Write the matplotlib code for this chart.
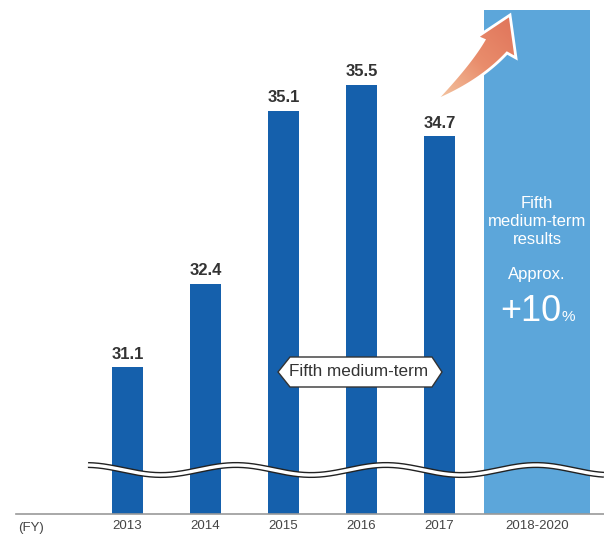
import numpy as np
import matplotlib
matplotlib.use('Agg')
import matplotlib.pyplot as plt
from matplotlib.patches import Polygon
from matplotlib.colors import LinearSegmentedColormap

plt.rcParams['font.family'] = ['Liberation Sans', 'DejaVu Sans']

# data
years = ['2013', '2014', '2015', '2016', '2017']
values = [31.1, 32.4, 35.1, 35.5, 34.7]
plan_label = '2018-2020'
plan_top = 36.67          # light column drawn up to here (not a value)
axis_base = 28.81         # value at the broken baseline

BAR_DARK = '#1560ac'
BAR_LIGHT = '#5ca6da'
TXT = '#333333'

fig = plt.figure(figsize=(6.04, 5.34), dpi=100)

# main axes, scaled so the bars fall where the reference has them
ax = fig.add_axes([16 / 604, 20 / 534, 1 - 16 / 604, 1 - 20 / 534])
x = np.arange(len(years))
ax.bar(x, np.array(values) - axis_base, bottom=axis_base, width=0.4, color=BAR_DARK, zorder=2)
plan_x = 5.25
ax.bar([plan_x], [plan_top - axis_base], bottom=axis_base, width=1.36, color=BAR_LIGHT, zorder=1)

for xi, v in zip(x, values):
    ax.annotate('{:.1f}'.format(v), (xi, v), xytext=(0, 4), textcoords='offset points',
                ha='center', va='bottom', fontsize=12, fontweight='bold', color=TXT)

ax.set_xlim(-1.4295, 6.109)
ax.set_ylim(axis_base, 36.825)
ax.set_xticks(list(x) + [plan_x])
ax.set_xticklabels(years + [plan_label], fontsize=9.5, color='#444444')
ax.tick_params(axis='x', length=0, pad=4.5)
ax.set_yticks([])
for s in ['top', 'right', 'left']:
    ax.spines[s].set_visible(False)
ax.spines['bottom'].set_color('#999999')
ax.spines['bottom'].set_linewidth(1.2)
ax.patch.set_alpha(0)

fig.text(18 / 604, 1 - 528 / 534, '(FY)', fontsize=9.5, color='#444444', ha='left', va='center')

# overlay in pixel coordinates for the decorations
ov = fig.add_axes([0, 0, 1, 1])
ov.axis('off')
ov.patch.set_alpha(0)

# wavy break
wx = np.linspace(88, 604, 400)
wy = 470 + 5 * np.cos(2 * np.pi * (wx - 161) / 150)
ov.plot(wx, wy, color='#222222', lw=4.4, solid_capstyle='butt', zorder=3)
ov.plot(wx, wy, color='white', lw=2.4, solid_capstyle='butt', zorder=4)

# "Fifth medium-term" hexagon label
hexa = Polygon([(278, 372), (290, 357), (432, 357), (442, 372), (432, 387), (290, 387)],
               closed=True, facecolor='white', edgecolor=TXT, lw=1.0, zorder=5)
ov.add_patch(hexa)
ov.text(359, 372, 'Fifth medium-term', ha='center', va='center', fontsize=12.3, color=TXT, zorder=6)

# column text
for txt, yy in [('Fifth', 203), ('medium-term', 222), ('results', 240), ('Approx.', 275)]:
    ov.text(537, yy, txt, ha='center', va='center', fontsize=12, color='white', zorder=6)
ov.text(561, 321, '+10', ha='right', va='baseline', fontsize=26, color='white', zorder=6)
ov.text(562, 321, '%', ha='left', va='baseline', fontsize=11, color='white', zorder=6)

# curved gradient arrow
def qbez(p0, c, p1, n=30):
    t = np.linspace(0, 1, n)[:, None]
    p0, c, p1 = map(np.array, (p0, c, p1))
    return (1 - t) ** 2 * p0 + 2 * (1 - t) * t * c + t ** 2 * p1

tail = (435, 101)
lower = qbez(tail, (480, 82), (507, 53))
upper = qbez(tail, (470, 64), (484, 40))
head = [(516, 58), (510, 15), (477, 37)]
pts = np.vstack([lower, head, upper[::-1]])
arrow = Polygon(pts, closed=True, facecolor='none', edgecolor='white', lw=2.0, zorder=7)
ov.add_patch(arrow)
cmap = LinearSegmentedColormap.from_list('arr', ['#f5cca8', '#e98d6c', '#df7259'])
gx, gy = np.meshgrid(np.linspace(0, 1, 100), np.linspace(0, 1, 100))
grad = (gx + gy) / 2
img = ov.imshow(grad, cmap=cmap, extent=(433, 518, 103, 13), aspect='auto', zorder=6.5,
                origin='lower')
img.set_clip_path(arrow)
ov.set_xlim(0, 604)
ov.set_ylim(534, 0)

fig.savefig('out.png', dpi=100)
